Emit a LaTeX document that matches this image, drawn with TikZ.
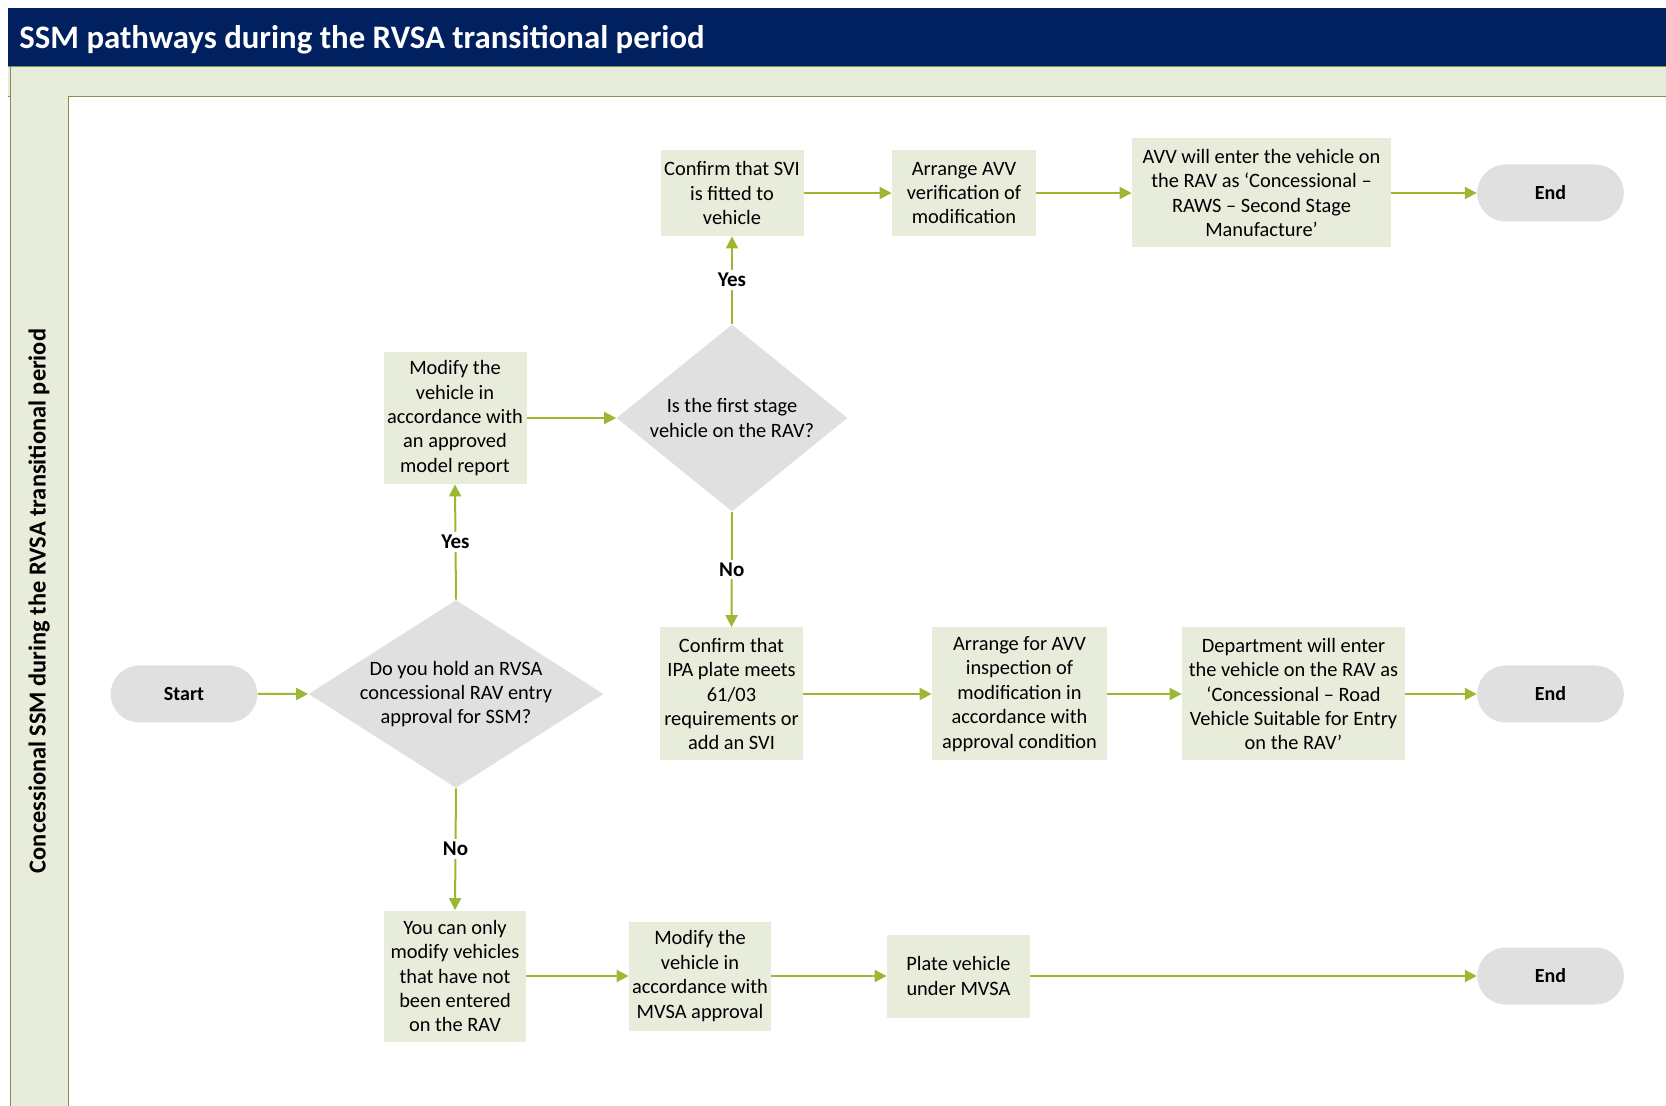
\documentclass[tikz,border=0pt]{standalone}
\usepackage{fontspec}
\setmainfont{Carlito}
\usepackage{tikz}
\usetikzlibrary{positioning}
\usetikzlibrary{shapes.geometric}
\usetikzlibrary{shapes.misc}
\usetikzlibrary{arrows.meta}
\definecolor{navy}{RGB}{0,32,96}
\definecolor{lanefill}{RGB}{232,236,219}
\definecolor{laneline}{RGB}{128,145,80}
\definecolor{greyfill}{RGB}{224,224,224}
\definecolor{flowgreen}{RGB}{156,183,50}
\tikzset{%
  flow/.style = {draw=flowgreen, line width=1pt,
        -{Triangle[length=6pt,width=6pt]}},
  act/.style = {rectangle, fill=lanefill, align=center, inner sep=0pt,
        font=\fontsize{10.2}{12.2}\selectfont},
  term/.style = {rounded rectangle, fill=greyfill, minimum width=80pt,
        minimum height=28.5pt, font=\bfseries\fontsize{10}{12}\selectfont},
  ask/.style = {diamond, fill=greyfill, inner sep=0pt},
  asktext/.style = {align=center, inner sep=0pt,
        font=\fontsize{10.2}{12.2}\selectfont},
  answer/.style = {fill=white, inner sep=1.5pt,
        font=\bfseries\fontsize{10.5}{12}\selectfont}
}

\begin{document}
\begin{tikzpicture}[x=0.5pt, y=-0.5pt]
    \useasboundingbox (0,0) rectangle (1666,1106);
    % header and lane
    \fill[navy] (8,8) rectangle (1666,66);
    \fill[lanefill] (8,66) rectangle (1666,96);
    \draw[laneline] (8,66) -- (1666,66);
    \draw[laneline] (8,96) -- (1666,96);
    \fill[lanefill] (10,96) rectangle (68,1106);
    \draw[laneline] (10,66) -- (10,1106);
    \draw[laneline] (68,96) -- (68,1106);
    \node[anchor=base west, text=white, inner sep=0pt,
        font=\bfseries\fontsize{16.4}{19}\selectfont] (title) at (19,49)
        {SSM pathways during the RVSA transitional period};
    \node[rotate=90, font=\bfseries\fontsize{12.2}{14}\selectfont] (lane) at (39,601)
        {Concessional SSM during the RVSA transitional period};

    % steps
    \node[term] (start) at (184,694) {Start};
    \node[ask, minimum width=147.5pt, minimum height=94pt] (q1) at (456,694) {};
    \node[asktext] (q1text) at (q1) {Do you hold an RVSA\\concessional RAV entry\\approval for SSM?};
    \node[act, minimum width=71.5pt, minimum height=66pt] (modify) at (455,418)
        {Modify the\\vehicle in\\accordance with\\an approved\\model report};
    \node[ask, minimum width=115.5pt, minimum height=93.5pt] (q2) at (732,418) {};
    \node[asktext] (q2text) at (q2) {Is the first stage\\vehicle on the RAV?};

    \node[act, minimum width=71.5pt, minimum height=43pt] (svi) at (732,193)
        {Confirm that SVI\\is fitted to\\vehicle};
    \node[act, minimum width=72pt, minimum height=43pt] (verify) at (964,193)
        {Arrange AVV\\verification of\\modification};
    \node[act, minimum width=129.5pt, minimum height=54.5pt] (avvrav) at (1261.5,193)
        {AVV will enter the vehicle on\\the RAV as ‘Concessional –\\RAWS – Second Stage\\Manufacture’};
    \node[term] (endtop) at (1550.5,193) {End};

    \node[act, minimum width=71.5pt, minimum height=66.5pt] (ipa) at (731.5,694)
        {Confirm that\\IPA plate meets\\61/03\\requirements or\\add an SVI};
    \node[act, minimum width=87.5pt, minimum height=66.5pt] (inspect) at (1019.5,694)
        {Arrange for AVV\\inspection of\\modification in\\accordance with\\approval condition};
    \node[act, minimum width=111.5pt, minimum height=66.5pt] (dept) at (1293.5,694)
        {Department will enter\\the vehicle on the RAV as\\‘Concessional – Road\\Vehicle Suitable for Entry\\on the RAV’};
    \node[term] (endmid) at (1550.5,694) {End};

    \node[act, minimum width=71pt, minimum height=65.5pt] (only) at (455,976)
        {You can only\\modify vehicles\\that have not\\been entered\\on the RAV};
    \node[act, minimum width=71pt, minimum height=54.5pt] (mvsa) at (700,976)
        {Modify the\\vehicle in\\accordance with\\MVSA approval};
    \node[act, minimum width=71.5pt, minimum height=41.5pt] (plate) at (958.5,976)
        {Plate vehicle\\under MVSA};
    \node[term] (endlow) at (1550.5,976) {End};

    % connectors
    \draw[flow] (start) -- (q1);
    \draw[flow] (q1.north) -- node[answer] {Yes} (modify.south);
    \draw[flow] (modify) -- (q2);
    \draw[flow] (q2.north) -- node[answer] {Yes} (svi.south);
    \draw[flow] (svi) -- (verify);
    \draw[flow] (verify) -- (avvrav);
    \draw[flow] (avvrav) -- (endtop);
    \draw[flow] (q2.south) -- node[answer] {No} (ipa.north);
    \draw[flow] (ipa) -- (inspect);
    \draw[flow] (inspect) -- (dept);
    \draw[flow] (dept) -- (endmid);
    \draw[flow] (q1.south) -- node[answer] {No} (only.north);
    \draw[flow] (only) -- (mvsa);
    \draw[flow] (mvsa) -- (plate);
    \draw[flow] (plate) -- (endlow);
\end{tikzpicture}
\end{document}
